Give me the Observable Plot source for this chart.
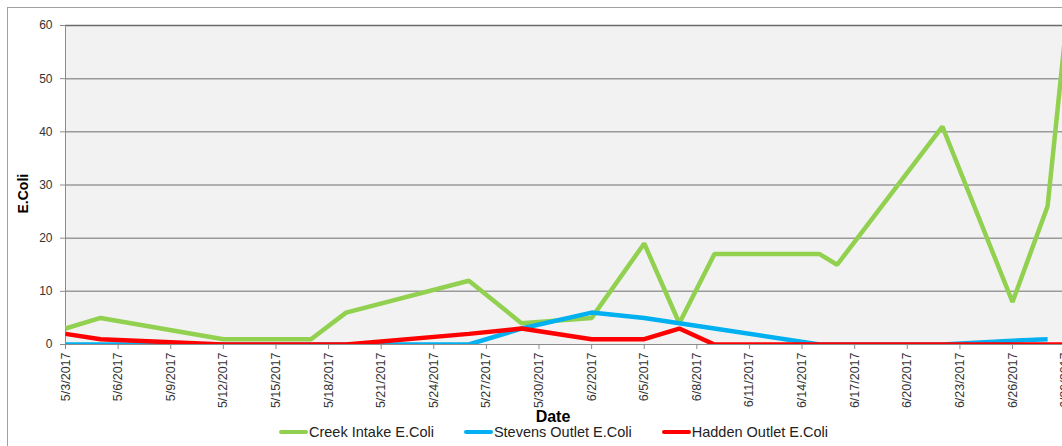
<!DOCTYPE html>
<html>
<head>
<meta charset="utf-8">
<script src="https://cdn.jsdelivr.net/npm/d3@7"></script>
<script src="https://cdn.jsdelivr.net/npm/@observablehq/plot@0.6"></script>
<style>
  html, body { margin: 0; padding: 0; background: #fff; }
  body { width: 1062px; height: 446px; overflow: hidden; position: relative; font-family: "Liberation Sans", Arial, sans-serif; }
  #chart { position: absolute; left: 0; top: 0; width: 1062px; }
  #chart svg { max-width: none !important; width: 1062px; }
  #border { position: absolute; left: 7px; top: 7px; width: 1200px; height: 600px; border: 1px solid #a0a0a0; pointer-events: none; }
  #legend { position: absolute; left: 279px; top: 424px; height: 16px; display: flex; align-items: center; font-size: 14.5px; color: #222; white-space: nowrap; }
  .item { display: flex; align-items: center; margin-right: 30px; }
  .sw { display: inline-block; width: 29px; height: 4px; margin-right: 1px; border-radius: 2px; }
</style>
</head>
<body>
<div id="chart"></div>
<div id="legend"></div>
<div id="border"></div>
<script>
// Sample dates
const dates = ["5/3/2017","5/5/2017","5/12/2017","5/17/2017","5/19/2017","5/26/2017","5/29/2017","6/2/2017","6/5/2017","6/7/2017","6/9/2017","6/15/2017","6/16/2017","6/22/2017","6/26/2017","6/28/2017","6/29/2017"];
// Series values
const creekIntake   = [3, 5, 1, 1, 6, 12, 4, 5, 19, 4, 17, 17, 15, 41, 8, 26, 58];
const stevensOutlet = [0, 0, 0, 0, 0, 0, 3, 6, 5, 4, 3, 0, 0, 0, 0.7, 1, null];
const haddenOutlet  = [2, 1, 0, 0, 0, 2, 3, 1, 1, 3, 0, 0, 0, 0, 0, 0, 0];

const seriesNames = ["Creek Intake E.Coli", "Stevens Outlet E.Coli", "Hadden Outlet E.Coli"];
const seriesColors = ["#92d050", "#00b0f0", "#ff0000"];

// Axis ticks
const xTickLabels = ["5/3/2017","5/6/2017","5/9/2017","5/12/2017","5/15/2017","5/18/2017","5/21/2017","5/24/2017","5/27/2017","5/30/2017","6/2/2017","6/5/2017","6/8/2017","6/11/2017","6/14/2017","6/17/2017","6/20/2017","6/23/2017","6/26/2017","6/29/2017"];
const yTicks = [0, 10, 20, 30, 40, 50, 60];

const parse = d3.utcParse("%m/%d/%Y");
const fmt = d => `${d.getUTCMonth() + 1}/${d.getUTCDate()}/${d.getUTCFullYear()}`;

const allSeries = [creekIntake, stevensOutlet, haddenOutlet];
const rows = [];
allSeries.forEach((vals, si) => {
  vals.forEach((v, i) => {
    if (v != null) rows.push({date: parse(dates[i]), value: v, series: seriesNames[si]});
  });
});

const xStart = parse(dates[0]);
// the visible plot area is cut at the right edge of the picture, late on 6/28
const xEnd = new Date(+parse("6/28/2017") + 20.4 * 36e5);

const chart = Plot.plot({
  width: 1062,
  height: 424,
  marginLeft: 65,
  marginRight: 0,
  marginTop: 25,
  marginBottom: 80,
  style: {fontFamily: "'Liberation Sans', Arial, sans-serif", background: "transparent", overflow: "hidden"},
  x: {type: "utc", domain: [xStart, xEnd]},
  y: {domain: [0, 60]},
  color: {domain: seriesNames, range: seriesColors},
  marks: [
    Plot.frame({fill: "#f2f2f2", stroke: null}),
    Plot.gridY(yTicks.filter(t => t > 0 && t < 60), {stroke: "#9a9a9a", strokeOpacity: 1, strokeWidth: 1.5}),
    Plot.ruleY([60], {stroke: "#6a6a6a", strokeWidth: 1.5}),
    Plot.ruleY([0], {stroke: "#8c8c8c", strokeWidth: 1}),
    Plot.ruleX([xStart], {stroke: "#8c8c8c", strokeWidth: 1}),
    Plot.axisY({ticks: yTicks, tickSize: 5, tickPadding: 8, fontSize: 12, stroke: "#8c8c8c", fill: "#333", label: null}),
    Plot.axisX({ticks: xTickLabels.map(parse), tickFormat: fmt, tickRotate: -90, tickSize: 5, tickPadding: 3, fontSize: 12.5, stroke: "#8c8c8c", fill: "#333", label: null}),
    Plot.line(rows, {x: "date", y: "value", z: "series", stroke: "series", strokeWidth: 4.5, strokeLinejoin: "miter", strokeLinecap: "butt", clip: true}),
    Plot.text(["E.Coli"], {frameAnchor: "left", rotate: -90, dx: -42, dy: 28.5, fontWeight: "bold", fontSize: 14, fill: "#000"}),
    Plot.text(["Date"], {frameAnchor: "bottom", lineAnchor: "middle", dx: -11, dy: 72, fontWeight: "bold", fontSize: 16, fill: "#000"})
  ]
});
document.getElementById("chart").append(chart);

const legend = document.getElementById("legend");
seriesNames.forEach((name, i) => {
  const item = document.createElement("div");
  item.className = "item";
  const sw = document.createElement("span");
  sw.className = "sw";
  sw.style.background = seriesColors[i];
  const label = document.createElement("span");
  label.textContent = name;
  item.append(sw, label);
  legend.append(item);
});
</script>
</body>
</html>
